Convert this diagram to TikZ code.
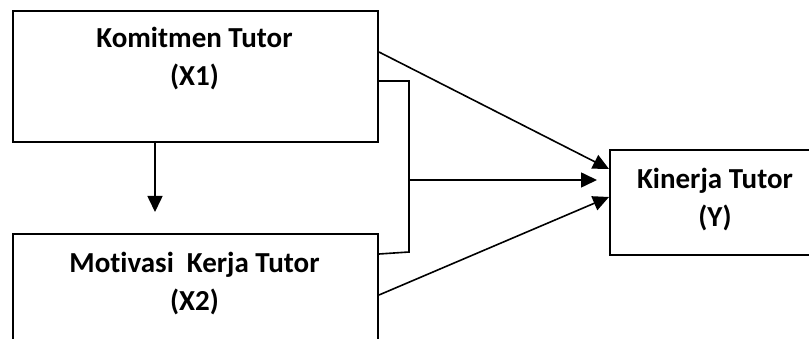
\documentclass[tikz,border=0pt]{standalone}
\usepackage{fontspec}
\setmainfont{Carlito}[Ligatures=NoCommon]
\usetikzlibrary{arrows.meta}
\begin{document}
\begin{tikzpicture}[x=1pt,y=-1pt,
  box/.style={draw,line width=2pt,rectangle,inner sep=0pt,anchor=north west},
  lbl/.style={align=center,font=\fontsize{29}{38}\selectfont\bfseries,inner sep=0pt},
  conn/.style={line width=1.6pt},
  arr/.style={conn,-{Triangle[length=16pt,width=15pt]}}]
\useasboundingbox (0,0) rectangle (809,339);
\clip (0,0) rectangle (809,339);
\node[box,minimum width=365pt,minimum height=131pt] (x1) at (12,10) {};
\node[box,minimum width=365pt,minimum height=131pt] (x2) at (12,233) {};
\node[box,minimum width=212pt,minimum height=105pt] (y) at (609,149) {};
\node[lbl] (x1t) at (194.5,59) {Komitmen Tutor\\(X1)};
\node[lbl] (x2t) at (194.5,284) {Motivasi\ \ Kerja Tutor\\(X2)};
\node[lbl] (yt) at (715,200) {Kinerja Tutor\\(Y)};
% connectors
\coordinate (a1) at ([yshift=-42pt]x1.north east);
\coordinate (b1) at ([yshift=-71pt]x1.north east);
\coordinate (b2) at ([yshift=-21pt]x2.north east);
\coordinate (a2) at ([yshift=-62pt]x2.north east);
\coordinate (bt) at (409,81);
\coordinate (bb) at (409,252);
\coordinate (bm) at (409,180);
\coordinate (t1) at ([yshift=-20pt]y.north west);
\coordinate (t2) at ([yshift=-48pt]y.north west);
\coordinate (tm) at (597,180);
\coordinate (d1) at (155,141);
\coordinate (d2) at (155,212);
\draw[arr] (d1) -- (d2);
\draw[arr] (a1) -- (t1);
\draw[arr] (a2) -- (t2);
\draw[conn] (b1) -- (bt) -- (bb) -- (b2);
\draw[arr] (bm) -- (tm);
\end{tikzpicture}
\end{document}
